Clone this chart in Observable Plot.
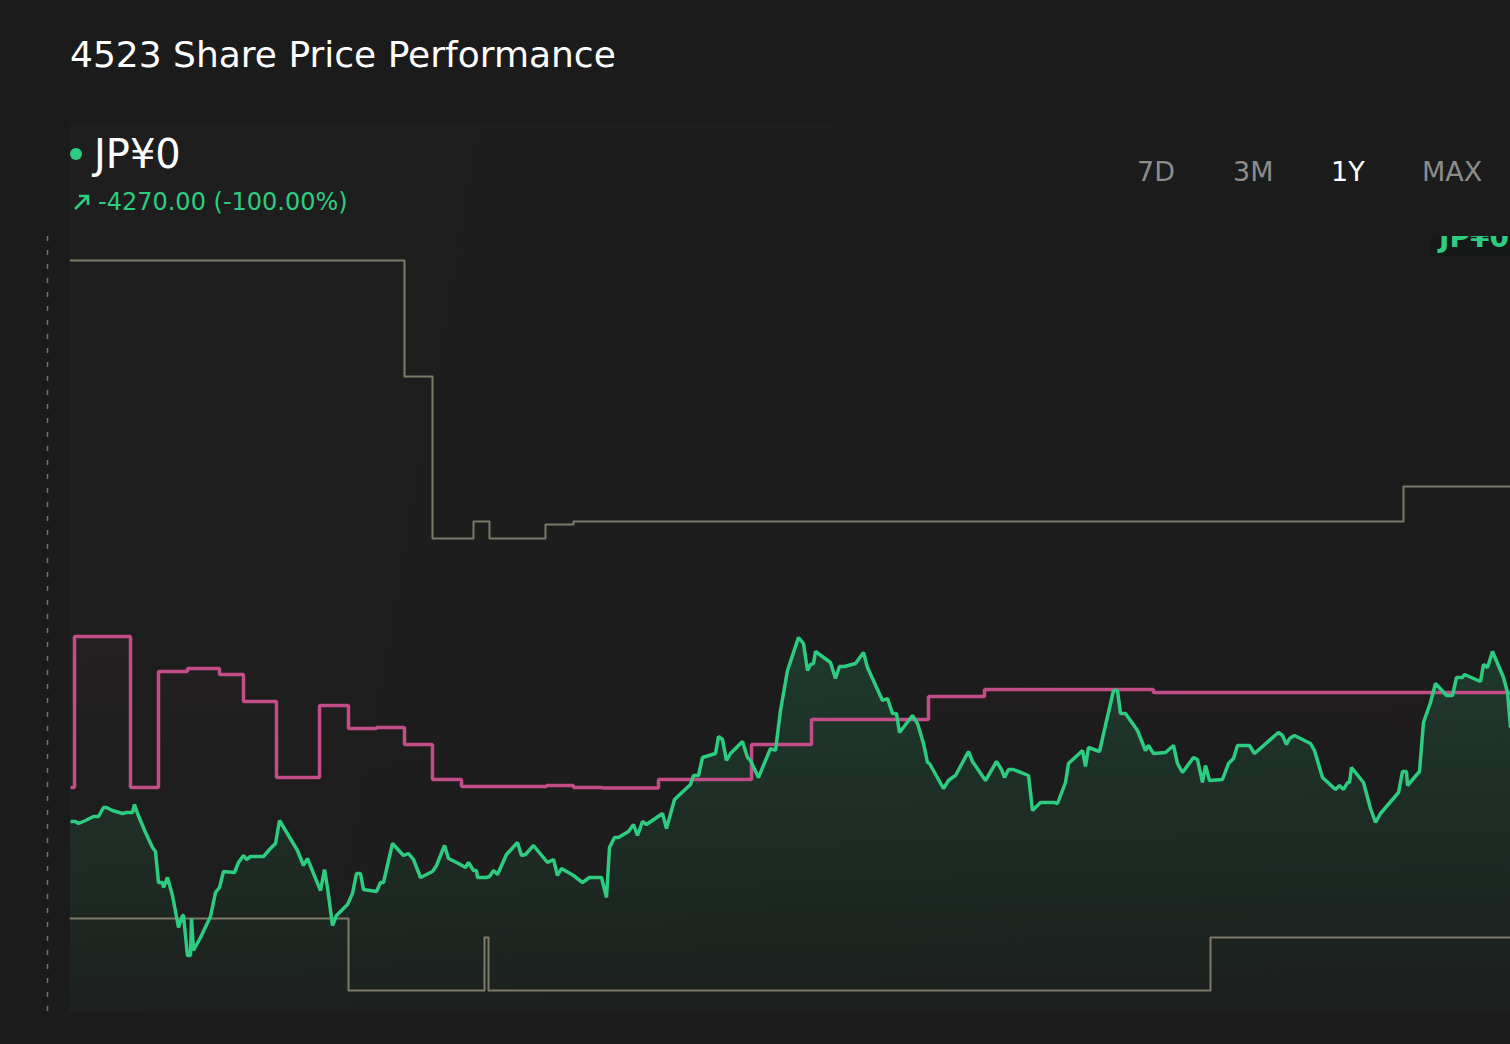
<!DOCTYPE html>
<html>
<head>
<meta charset="utf-8">
<script src="https://cdn.jsdelivr.net/npm/d3@7"></script>
<script src="https://cdn.jsdelivr.net/npm/@observablehq/plot@0.6"></script>
<style>
html, body { margin: 0; padding: 0; background: #1b1b1b; }
body { width: 1510px; height: 1044px; overflow: hidden; position: relative; font-family: "DejaVu Sans", sans-serif; }
.abs { position: absolute; line-height: 1; white-space: nowrap; }
#panel { position: absolute; left: 70px; top: 123px; width: 1440px; height: 889px;
  background: linear-gradient(100deg, #1d1e1d 0%, #1c1d1c 35%, #1b1c1b 60%, #1b1b1b 100%); }
#title { left: 70px; top: 37px; font-size: 36px; color: #ffffff; }
#dot { position: absolute; left: 70px; top: 148px; width: 12px; height: 12px; border-radius: 50%; background: #2ecc80; }
#price { left: 94px; top: 134px; font-size: 40px; color: #ffffff; }
#change { left: 98px; top: 190px; font-size: 24px; color: #2ecc80; }
#arrow { position: absolute; left: 72px; top: 192px; }
.btn { top: 158px; font-size: 27px; color: #8c8c8c; }
.btn.on { color: #ffffff; }
#chart { position: absolute; left: 0; top: 236px; }
#tag { position: absolute; left: 1430px; top: 236px; width: 80px; height: 21px; overflow: hidden; background: #161917; }
#tag span { position: absolute; left: 9px; top: -12px; font-size: 28px; font-weight: bold; line-height: 1; color: #2ecc80; white-space: nowrap; }
</style>
</head>
<body>
<div id="panel"></div>
<div id="title" class="abs">4523 Share Price Performance</div>
<div id="dot"></div>
<div id="price" class="abs">JP¥0</div>
<svg id="arrow" width="20" height="20" viewBox="0 0 20 20"><path d="M3 17 L16 4 M7 4 H16 V13" fill="none" stroke="#2ecc80" stroke-width="2.6"/></svg>
<div id="change" class="abs">-4270.00 (-100.00%)</div>
<div class="abs btn" style="left:1137px">7D</div>
<div class="abs btn" style="left:1233px">3M</div>
<div class="abs btn on" style="left:1331px">1Y</div>
<div class="abs btn" style="left:1422px">MAX</div>
<div id="chart"></div>
<div id="tag"><span>JP¥0</span></div>
<script>
// ---- data (day offset from start date, value in JPY) ----
const startDate = "2024-03-01";
const yDomain = [2880, 10640];
const leadDays = -5.75;   // start of the time axis (dashed marker)
const endDay = 360;

const priceSeries = [
[0,4790],[1.25,4790],[2,4770],[3.75,4800],[5.75,4840],[7,4840],[8.25,4930],[9,4930],[10.5,4900],[13,4870],
[14,4880],[15.5,4880],[16,4960],[16.75,4870],[18.75,4680],[20.5,4530],[21.25,4490],[22,4180],[23,4180],[23.25,4130],
[24.25,4230],[25.5,4050],[27,3730],[28,3850],[28.25,3850],[29.25,3450],[30,3450],[30.25,3820],[30.75,3500],[32.5,3630],
[35,3840],[36.25,4080],[37.25,4130],[38.25,4290],[41,4280],[42,4380],[43.25,4450],[44,4410],[45,4440],[48.25,4440],
[50,4520],[51.25,4570],[52.25,4800],[54.5,4650],[56.75,4500],[58.25,4350],[59.25,4420],[60.75,4270],[62.5,4100],[63.5,4310],
[64.25,4130],[65.5,3750],[66.5,3850],[69.25,3960],[70.5,4070],[71.5,4270],[72.5,4270],[73.25,4110],[76.5,4090],[77.5,4180],
[78.25,4180],[80.5,4570],[83.25,4450],[84.5,4470],[85.75,4410],[87.5,4230],[90.5,4290],[91.5,4350],[93.5,4550],[94.5,4420],
[97,4370],[98.75,4330],[99.5,4380],[100.75,4300],[101.5,4300],[101.75,4230],[104,4230],[104.75,4240],[105.75,4300],[106.75,4260],
[109,4460],[111.75,4580],[112.75,4450],[113.75,4460],[115.75,4550],[119.25,4380],[120.75,4410],[121.75,4250],[122.75,4320],[125.75,4250],
[128,4180],[129.75,4230],[132.75,4230],[134,4030],[134.75,4530],[136,4630],[137,4630],[139.5,4690],[140.75,4760],[141.75,4650],
[143,4790],[144,4760],[148,4870],[149,4720],[151,5010],[155,5160],[155.75,5250],[157,5250],[158,5430],[161.25,5470],
[162,5640],[163,5610],[164,5400],[165,5470],[168,5590],[169.25,5430],[170,5400],[172,5230],[175,5520],[176.25,5500],
[177.5,5900],[179.25,6300],[182,6630],[183.25,6570],[184.25,6300],[185,6360],[185.75,6370],[186.25,6490],[190,6380],[191.25,6220],
[192.25,6340],[193.5,6340],[196.25,6370],[198.25,6480],[199.25,6330],[203,6000],[204.25,6020],[205.5,5870],[206.5,5870],[207.25,5680],
[210.5,5850],[211.75,5770],[213.25,5570],[214.25,5380],[214.75,5370],[218.25,5120],[219.5,5200],[220.5,5230],[221.25,5250],[224.5,5490],
[225.5,5390],[228.75,5200],[231.5,5390],[232.75,5310],[233.5,5230],[234.5,5310],[235.75,5310],[239.5,5250],[240.5,4900],[242.5,4980],
[246,4980],[246.75,4970],[248.75,5180],[249.5,5370],[253,5500],[253.75,5340],[254.5,5530],[257.25,5490],[260.75,6100],[261.75,6100],
[262.5,5870],[263.75,5870],[266.75,5700],[268.75,5500],[269.5,5550],[270.75,5470],[273.75,5480],[275.75,5550],[276.75,5370],[278,5280],
[280.75,5430],[281.75,5410],[283,5180],[283.75,5350],[284.75,5200],[288,5210],[289.5,5370],[290.75,5420],[291.75,5550],[294.75,5550],
[296,5470],[302,5680],[303,5650],[304,5560],[304.75,5620],[306,5650],[310,5570],[311,5500],[313,5230],[316.25,5110],
[317.25,5150],[318.25,5110],[319.25,5180],[319.75,5180],[320.25,5330],[323.25,5180],[325,4920],[326.25,4780],[327.5,4870],[332,5080],
[333,5290],[334,5290],[334.25,5150],[337.25,5290],[338.25,5780],[340,5980],[341.25,6170],[344,6050],[345.5,6050],[346.5,6230],
[348,6230],[348.5,6260],[352.5,6190],[353.25,6360],[354.25,6330],[355.5,6490],[358.25,6230],[359.25,6080],[360,5730]
];

// analyst average target (step)
const targetSeries = [
[0,5130],[1,6640],[15,5130],[22,6290],[29.25,6320],[37.25,6260],[43.25,5990],[51.5,5230],[62.25,5950],[69.5,5720],
[76.5,5730],[83.5,5560],[90.5,5210],[97.75,5140],[119,5150],[125.75,5130],[133,5125],[147,5210],[170.25,5560],[185.25,5810],
[214.5,6040],[228.5,6110],[270.75,6080],[360,6080]
];

// high estimate (step)
const highSeries = [
[0,10400],[83.5,9240],[90.5,7620],[100.75,7790],[104.75,7620],[118.75,7760],[125.75,7790],[333.25,8140],[360,8140]
];

// low estimate (step)
const lowSeries = [
[0,3820],[69.5,3100],[103.5,3630],[104.5,3100],[285,3630],[360,3630]
];

const t0 = Date.parse(startDate + "T00:00:00Z");
const toDate = d => new Date(t0 + d * 864e5);
const rows = s => s.map(([d, v]) => ({date: toDate(d), value: v}));
const price = rows(priceSeries);
const target = rows(targetSeries);
const high = rows(highSeries);
const low = rows(lowSeries);
const base = yDomain[0];

const GREEN = "#2ecc80", PINK = "#c24d88", GRAY = "#7c7a68";

const chart = Plot.plot({
  width: 1510,
  height: 808,
  marginTop: 0,
  marginBottom: 32,
  marginLeft: 47,
  marginRight: 0,
  style: {background: "transparent", overflow: "hidden"},
  x: {type: "utc", domain: [toDate(leadDays), toDate(endDay)], axis: null},
  y: {domain: yDomain, axis: null},
  marks: [
    Plot.ruleX([toDate(leadDays)], {stroke: "#77745f", strokeWidth: 1.5, strokeDasharray: "5,9"}),
    Plot.areaY(target, {x: "date", y1: () => base, y2: "value", curve: "step-after", fill: "url(#pinkGrad)"}),
    Plot.areaY(price, {x: "date", y1: () => base, y2: "value", fill: "url(#greenGrad)"}),
    Plot.line(high, {x: "date", y: "value", curve: "step-after", stroke: GRAY, strokeWidth: 2}),
    Plot.line(low, {x: "date", y: "value", curve: "step-after", stroke: GRAY, strokeWidth: 2}),
    Plot.line(target, {x: "date", y: "value", curve: "step-after", stroke: PINK, strokeWidth: 3.5, strokeLinejoin: "miter", strokeLinecap: "butt"}),
    Plot.line(price, {x: "date", y: "value", stroke: GREEN, strokeWidth: 3.5, strokeLinejoin: "miter", strokeLinecap: "butt"})
  ]
});

d3.select(chart).insert("defs", ":first-child").html(`
  <linearGradient id="greenGrad" x1="0" y1="0" x2="0" y2="1">
    <stop offset="0%" stop-color="${GREEN}" stop-opacity="0.17"/>
    <stop offset="100%" stop-color="${GREEN}" stop-opacity="0.015"/>
  </linearGradient>
  <linearGradient id="pinkGrad" x1="0" y1="0" x2="0" y2="1">
    <stop offset="0%" stop-color="${PINK}" stop-opacity="0.05"/>
    <stop offset="35%" stop-color="${PINK}" stop-opacity="0.0"/>
  </linearGradient>`);

document.getElementById("chart").appendChild(chart);
</script>
</body>
</html>
